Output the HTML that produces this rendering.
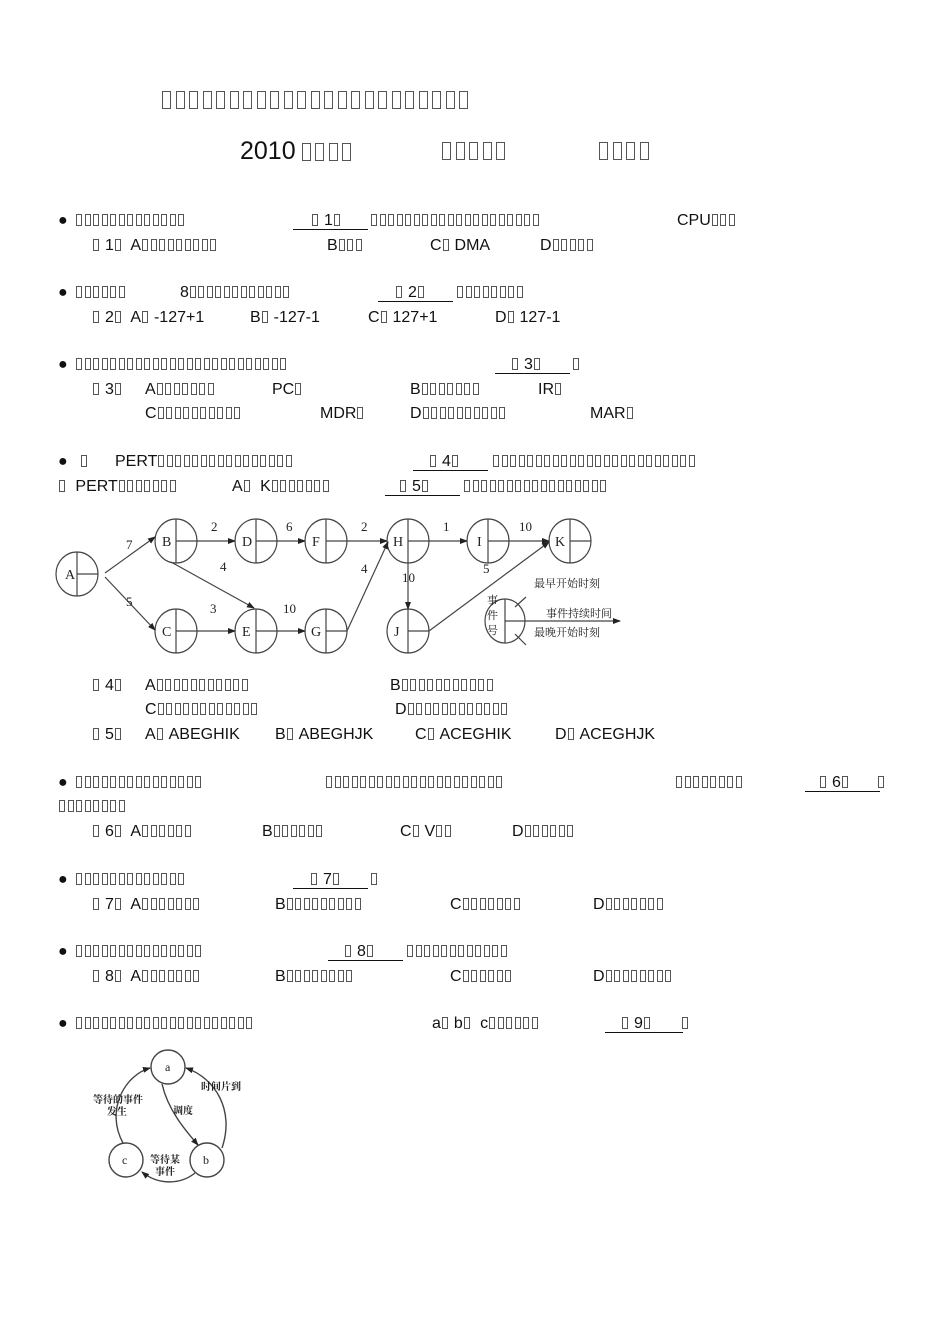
<!DOCTYPE html>
<html><head><meta charset="utf-8"><style>
body{margin:0;width:950px;height:1344px;background:#fff;position:relative;overflow:hidden;font-family:"Liberation Sans","Noto Sans CJK SC",sans-serif;color:#111}
.a{position:absolute;white-space:nowrap;font-size:16px;line-height:18px;height:18px}
i{display:inline-block;width:4px;height:10px;border:1px solid #555;margin:0 1.5px 0 1px;vertical-align:-1px}
.T i{width:7px;height:16px;margin:0 2.5px 0 2px;vertical-align:-2px}
.u{position:absolute;height:1px;background:#111}
svg text{font-family:"Liberation Serif","Noto Serif CJK SC",serif}
</style></head><body>

<div class="a T" style="left:160px;top:91px;height:20px"><i></i><i></i><i></i><i></i><i></i><i></i><i></i><i></i><i></i><i></i><i></i><i></i><i></i><i></i><i></i><i></i><i></i><i></i><i></i><i></i><i></i><i></i><i></i></div>
<div class="a T" style="left:240px;top:139px;font-size:25px;line-height:24px;height:26px">2010<span style="margin-left:4px"></span><i></i><i></i><i></i><i></i></div>
<div class="a T" style="left:440px;top:142px"><i></i><i></i><i></i><i></i><i></i></div>
<div class="a T" style="left:597px;top:142px"><i></i><i></i><i></i><i></i></div>

<!-- Q1 -->
<div class="a" style="left:58px;top:212px">●</div>
<div class="a" style="left:75px;top:212px"><i></i><i></i><i></i><i></i><i></i><i></i><i></i><i></i><i></i><i></i><i></i><i></i><i></i></div>
<div class="a" style="left:311px;top:212px"><i></i> 1<i></i></div><div class="u" style="left:293px;top:229px;width:75px"></div>
<div class="a" style="left:370px;top:212px"><i></i><i></i><i></i><i></i><i></i><i></i><i></i><i></i><i></i><i></i><i></i><i></i><i></i><i></i><i></i><i></i><i></i><i></i><i></i><i></i></div>
<div class="a" style="left:677px;top:212px">CPU<i></i><i></i><i></i></div>
<div class="a" style="left:92px;top:237px"><i></i> 1<i></i>&nbsp; A<i></i><i></i><i></i><i></i><i></i><i></i><i></i><i></i><i></i></div>
<div class="a" style="left:327px;top:237px">B<i></i><i></i><i></i></div>
<div class="a" style="left:430px;top:237px">C<i></i>&nbsp;DMA</div>
<div class="a" style="left:540px;top:237px">D<i></i><i></i><i></i><i></i><i></i></div>

<!-- Q2 -->
<div class="a" style="left:58px;top:284px">●</div>
<div class="a" style="left:75px;top:284px"><i></i><i></i><i></i><i></i><i></i><i></i></div>
<div class="a" style="left:180px;top:284px">8<i></i><i></i><i></i><i></i><i></i><i></i><i></i><i></i><i></i><i></i><i></i><i></i></div>
<div class="a" style="left:395px;top:284px"><i></i> 2<i></i></div><div class="u" style="left:378px;top:301px;width:75px"></div>
<div class="a" style="left:456px;top:284px"><i></i><i></i><i></i><i></i><i></i><i></i><i></i><i></i></div>
<div class="a" style="left:92px;top:309px"><i></i> 2<i></i>&nbsp; A<i></i>&nbsp;-127+1</div>
<div class="a" style="left:250px;top:309px">B<i></i>&nbsp;-127-1</div>
<div class="a" style="left:368px;top:309px">C<i></i>&nbsp;127+1</div>
<div class="a" style="left:495px;top:309px">D<i></i>&nbsp;127-1</div>

<!-- Q3 -->
<div class="a" style="left:58px;top:356px">●</div>
<div class="a" style="left:75px;top:356px"><i></i><i></i><i></i><i></i><i></i><i></i><i></i><i></i><i></i><i></i><i></i><i></i><i></i><i></i><i></i><i></i><i></i><i></i><i></i><i></i><i></i><i></i><i></i><i></i><i></i></div>
<div class="a" style="left:511px;top:356px"><i></i> 3<i></i></div><div class="u" style="left:495px;top:373px;width:75px"></div>
<div class="a" style="left:572px;top:356px"><i></i></div>
<div class="a" style="left:92px;top:381px"><i></i> 3<i></i></div>
<div class="a" style="left:145px;top:381px">A<i></i><i></i><i></i><i></i><i></i><i></i><i></i></div>
<div class="a" style="left:272px;top:381px">PC<i></i></div>
<div class="a" style="left:410px;top:381px">B<i></i><i></i><i></i><i></i><i></i><i></i><i></i></div>
<div class="a" style="left:538px;top:381px">IR<i></i></div>
<div class="a" style="left:145px;top:405px">C<i></i><i></i><i></i><i></i><i></i><i></i><i></i><i></i><i></i><i></i></div>
<div class="a" style="left:320px;top:405px">MDR<i></i></div>
<div class="a" style="left:410px;top:405px">D<i></i><i></i><i></i><i></i><i></i><i></i><i></i><i></i><i></i><i></i></div>
<div class="a" style="left:590px;top:405px">MAR<i></i></div>

<!-- Q4/5 -->
<div class="a" style="left:58px;top:453px">●</div>
<div class="a" style="left:80px;top:453px"><i></i></div>
<div class="a" style="left:115px;top:453px">PERT<i></i><i></i><i></i><i></i><i></i><i></i><i></i><i></i><i></i><i></i><i></i><i></i><i></i><i></i><i></i><i></i></div>
<div class="a" style="left:429px;top:453px"><i></i> 4<i></i></div><div class="u" style="left:413px;top:470px;width:75px"></div>
<div class="a" style="left:492px;top:453px"><i></i><i></i><i></i><i></i><i></i><i></i><i></i><i></i><i></i><i></i><i></i><i></i><i></i><i></i><i></i><i></i><i></i><i></i><i></i><i></i><i></i><i></i><i></i><i></i></div>
<div class="a" style="left:58px;top:478px"><i></i>&nbsp; PERT<i></i><i></i><i></i><i></i><i></i><i></i><i></i></div>
<div class="a" style="left:232px;top:478px">A<i></i>&nbsp; K<i></i><i></i><i></i><i></i><i></i><i></i><i></i></div>
<div class="a" style="left:399px;top:478px"><i></i> 5<i></i></div><div class="u" style="left:385px;top:495px;width:75px"></div>
<div class="a" style="left:463px;top:478px"><i></i><i></i><i></i><i></i><i></i><i></i><i></i><i></i><i></i><i></i><i></i><i></i><i></i><i></i><i></i><i></i><i></i></div>

<svg style="position:absolute;left:0;top:0" width="950" height="1344">
<defs><marker id="ar" markerWidth="8" markerHeight="6" refX="7" refY="3" orient="auto" markerUnits="userSpaceOnUse"><path d="M0,0L8,3L0,6z" fill="#222"/></marker></defs>
<g stroke="#444" stroke-width="1.2" fill="none">
<ellipse cx="77" cy="574" rx="21" ry="22"/><line x1="77" y1="552" x2="77" y2="596"/><line x1="77" y1="574" x2="98" y2="574"/>
<ellipse cx="176" cy="541" rx="21" ry="22"/><line x1="176" y1="519" x2="176" y2="563"/><line x1="176" y1="541" x2="197" y2="541"/>
<ellipse cx="256" cy="541" rx="21" ry="22"/><line x1="256" y1="519" x2="256" y2="563"/><line x1="256" y1="541" x2="277" y2="541"/>
<ellipse cx="326" cy="541" rx="21" ry="22"/><line x1="326" y1="519" x2="326" y2="563"/><line x1="326" y1="541" x2="347" y2="541"/>
<ellipse cx="408" cy="541" rx="21" ry="22"/><line x1="408" y1="519" x2="408" y2="563"/><line x1="408" y1="541" x2="429" y2="541"/>
<ellipse cx="488" cy="541" rx="21" ry="22"/><line x1="488" y1="519" x2="488" y2="563"/><line x1="488" y1="541" x2="509" y2="541"/>
<ellipse cx="570" cy="541" rx="21" ry="22"/><line x1="570" y1="519" x2="570" y2="563"/><line x1="570" y1="541" x2="591" y2="541"/>
<ellipse cx="176" cy="631" rx="21" ry="22"/><line x1="176" y1="609" x2="176" y2="653"/><line x1="176" y1="631" x2="197" y2="631"/>
<ellipse cx="256" cy="631" rx="21" ry="22"/><line x1="256" y1="609" x2="256" y2="653"/><line x1="256" y1="631" x2="277" y2="631"/>
<ellipse cx="326" cy="631" rx="21" ry="22"/><line x1="326" y1="609" x2="326" y2="653"/><line x1="326" y1="631" x2="347" y2="631"/>
<ellipse cx="408" cy="631" rx="21" ry="22"/><line x1="408" y1="609" x2="408" y2="653"/><line x1="408" y1="631" x2="429" y2="631"/>
<ellipse cx="505" cy="621" rx="20" ry="22"/><line x1="505" y1="599" x2="505" y2="643"/><line x1="505" y1="621" x2="620" y2="621" marker-end="url(#ar)"/>
<g marker-end="url(#ar)">
<line x1="105" y1="573" x2="155" y2="537"/>
<line x1="105" y1="577" x2="155" y2="630"/>
<line x1="197" y1="541" x2="235" y2="541"/>
<line x1="277" y1="541" x2="305" y2="541"/>
<line x1="347" y1="541" x2="387" y2="541"/>
<line x1="429" y1="541" x2="467" y2="541"/>
<line x1="509" y1="541" x2="549" y2="541"/>
<line x1="197" y1="631" x2="235" y2="631"/>
<line x1="277" y1="631" x2="305" y2="631"/>
<line x1="171" y1="562" x2="254" y2="608"/>
<line x1="347" y1="631" x2="388" y2="542"/>
<line x1="408" y1="563" x2="408" y2="609"/>
<line x1="429" y1="631" x2="549" y2="542"/>
</g>
<line x1="515" y1="607" x2="526" y2="597"/><line x1="515" y1="634" x2="526" y2="645"/>
</g>
<g font-size="14" fill="#222">
<text x="65" y="579">A</text><text x="162" y="546">B</text><text x="242" y="546">D</text><text x="312" y="546">F</text><text x="393" y="546">H</text><text x="477" y="546">I</text><text x="555" y="546">K</text>
<text x="162" y="636">C</text><text x="242" y="636">E</text><text x="311" y="636">G</text><text x="394" y="636">J</text>
<g font-size="13"><text x="126" y="549">7</text><text x="126" y="606">5</text><text x="211" y="531">2</text><text x="286" y="531">6</text><text x="361" y="531">2</text><text x="443" y="531">1</text><text x="519" y="531">10</text>
<text x="220" y="571">4</text><text x="210" y="613">3</text><text x="283" y="613">10</text><text x="361" y="573">4</text><text x="402" y="582">10</text><text x="483" y="573">5</text></g>
<g font-size="11" font-family="Noto Sans CJK SC,sans-serif"><text x="487" y="604">事</text><text x="487" y="619">件</text><text x="487" y="634">号</text>
<text x="534" y="587">最早开始时刻</text><text x="546" y="617">事件持续时间</text><text x="534" y="636">最晚开始时刻</text></g>
</g>
<g stroke="#444" stroke-width="1.4" fill="none">
<circle cx="168" cy="1067" r="17"/><circle cx="207" cy="1160" r="17"/><circle cx="126" cy="1160" r="17"/>
<path d="M123,1143 C105,1110 125,1075 150,1068" marker-end="url(#ar)"/>
<path d="M222,1148 C235,1110 215,1078 186,1068" marker-end="url(#ar)"/>
<path d="M162,1084 C168,1110 185,1130 198,1145" marker-end="url(#ar)"/>
<path d="M195,1173 C180,1185 158,1185 142,1172" marker-end="url(#ar)"/>
</g>
<g font-size="12" fill="#222"><text x="165" y="1071">a</text><text x="203" y="1164">b</text><text x="122" y="1164">c</text></g>
<g font-size="10" fill="#222" font-family="Noto Sans CJK SC,sans-serif" font-weight="bold"><text x="201" y="1090">时间片到</text><text x="93" y="1103">等待的事件</text><text x="107" y="1115">发生</text><text x="173" y="1114">调度</text><text x="150" y="1163">等待某</text><text x="155" y="1175">事件</text></g>
</svg>

<div class="a" style="left:92px;top:677px"><i></i> 4<i></i></div>
<div class="a" style="left:145px;top:677px">A<i></i><i></i><i></i><i></i><i></i><i></i><i></i><i></i><i></i><i></i><i></i></div>
<div class="a" style="left:390px;top:677px">B<i></i><i></i><i></i><i></i><i></i><i></i><i></i><i></i><i></i><i></i><i></i></div>
<div class="a" style="left:145px;top:701px">C<i></i><i></i><i></i><i></i><i></i><i></i><i></i><i></i><i></i><i></i><i></i><i></i></div>
<div class="a" style="left:395px;top:701px">D<i></i><i></i><i></i><i></i><i></i><i></i><i></i><i></i><i></i><i></i><i></i><i></i></div>
<div class="a" style="left:92px;top:726px"><i></i> 5<i></i></div>
<div class="a" style="left:145px;top:726px">A<i></i>&nbsp;ABEGHIK</div>
<div class="a" style="left:275px;top:726px">B<i></i>&nbsp;ABEGHJK</div>
<div class="a" style="left:415px;top:726px">C<i></i>&nbsp;ACEGHIK</div>
<div class="a" style="left:555px;top:726px">D<i></i>&nbsp;ACEGHJK</div>

<!-- Q6 -->
<div class="a" style="left:58px;top:774px">●</div>
<div class="a" style="left:75px;top:774px"><i></i><i></i><i></i><i></i><i></i><i></i><i></i><i></i><i></i><i></i><i></i><i></i><i></i><i></i><i></i></div>
<div class="a" style="left:325px;top:774px"><i></i><i></i><i></i><i></i><i></i><i></i><i></i><i></i><i></i><i></i><i></i><i></i><i></i><i></i><i></i><i></i><i></i><i></i><i></i><i></i><i></i></div>
<div class="a" style="left:675px;top:774px"><i></i><i></i><i></i><i></i><i></i><i></i><i></i><i></i></div>
<div class="a" style="left:819px;top:774px"><i></i> 6<i></i></div><div class="u" style="left:805px;top:791px;width:75px"></div>
<div class="a" style="left:877px;top:774px"><i></i></div>
<div class="a" style="left:58px;top:798px"><i></i><i></i><i></i><i></i><i></i><i></i><i></i><i></i></div>
<div class="a" style="left:92px;top:823px"><i></i> 6<i></i>&nbsp; A<i></i><i></i><i></i><i></i><i></i><i></i></div>
<div class="a" style="left:262px;top:823px">B<i></i><i></i><i></i><i></i><i></i><i></i></div>
<div class="a" style="left:400px;top:823px">C<i></i>&nbsp;V<i></i><i></i></div>
<div class="a" style="left:512px;top:823px">D<i></i><i></i><i></i><i></i><i></i><i></i></div>

<!-- Q7 -->
<div class="a" style="left:58px;top:871px">●</div>
<div class="a" style="left:75px;top:871px"><i></i><i></i><i></i><i></i><i></i><i></i><i></i><i></i><i></i><i></i><i></i><i></i><i></i></div>
<div class="a" style="left:310px;top:871px"><i></i> 7<i></i></div><div class="u" style="left:293px;top:888px;width:75px"></div>
<div class="a" style="left:370px;top:871px"><i></i></div>
<div class="a" style="left:92px;top:896px"><i></i> 7<i></i>&nbsp; A<i></i><i></i><i></i><i></i><i></i><i></i><i></i></div>
<div class="a" style="left:275px;top:896px">B<i></i><i></i><i></i><i></i><i></i><i></i><i></i><i></i><i></i></div>
<div class="a" style="left:450px;top:896px">C<i></i><i></i><i></i><i></i><i></i><i></i><i></i></div>
<div class="a" style="left:593px;top:896px">D<i></i><i></i><i></i><i></i><i></i><i></i><i></i></div>

<!-- Q8 -->
<div class="a" style="left:58px;top:943px">●</div>
<div class="a" style="left:75px;top:943px"><i></i><i></i><i></i><i></i><i></i><i></i><i></i><i></i><i></i><i></i><i></i><i></i><i></i><i></i><i></i></div>
<div class="a" style="left:344px;top:943px"><i></i> 8<i></i></div><div class="u" style="left:328px;top:960px;width:75px"></div>
<div class="a" style="left:406px;top:943px"><i></i><i></i><i></i><i></i><i></i><i></i><i></i><i></i><i></i><i></i><i></i><i></i></div>
<div class="a" style="left:92px;top:968px"><i></i> 8<i></i>&nbsp; A<i></i><i></i><i></i><i></i><i></i><i></i><i></i></div>
<div class="a" style="left:275px;top:968px">B<i></i><i></i><i></i><i></i><i></i><i></i><i></i><i></i></div>
<div class="a" style="left:450px;top:968px">C<i></i><i></i><i></i><i></i><i></i><i></i></div>
<div class="a" style="left:593px;top:968px">D<i></i><i></i><i></i><i></i><i></i><i></i><i></i><i></i></div>

<!-- Q9 -->
<div class="a" style="left:58px;top:1015px">●</div>
<div class="a" style="left:75px;top:1015px"><i></i><i></i><i></i><i></i><i></i><i></i><i></i><i></i><i></i><i></i><i></i><i></i><i></i><i></i><i></i><i></i><i></i><i></i><i></i><i></i><i></i></div>
<div class="a" style="left:432px;top:1015px">a<i></i> b<i></i>&nbsp; c<i></i><i></i><i></i><i></i><i></i><i></i></div>
<div class="a" style="left:621px;top:1015px"><i></i> 9<i></i></div><div class="u" style="left:605px;top:1032px;width:78px"></div>
<div class="a" style="left:681px;top:1015px"><i></i></div>

</body></html>
